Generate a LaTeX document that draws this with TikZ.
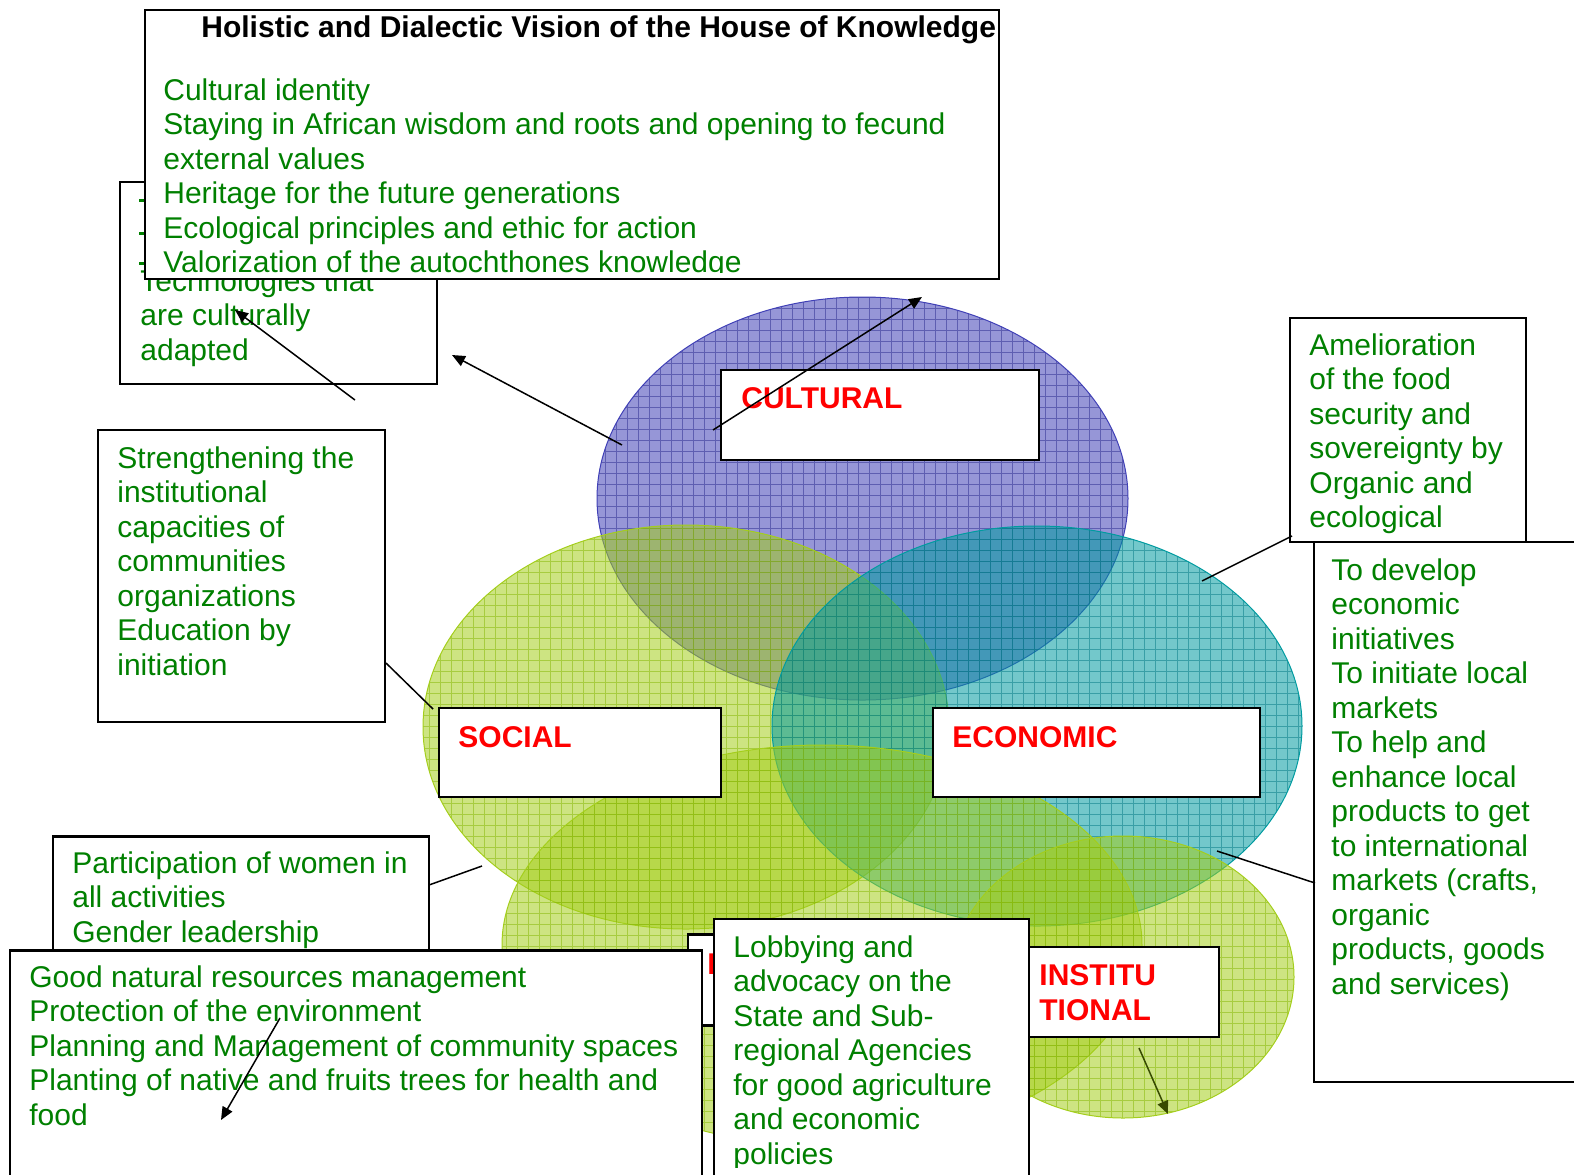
\documentclass[tikz,border=0pt]{standalone}
\usepackage{fontspec}
\setmainfont{Liberation Sans}
\usetikzlibrary{arrows.meta}

\definecolor{leafgreen}{RGB}{0,128,0}
\definecolor{tagred}{RGB}{255,0,0}
\definecolor{cultfill}{RGB}{64,64,182}
\definecolor{cultgrid}{RGB}{40,40,140}
\definecolor{socfill}{RGB}{164,206,28}
\definecolor{socgrid}{RGB}{130,180,0}
\definecolor{ecofill}{RGB}{0,155,160}
\definecolor{ecogrid}{RGB}{0,120,130}
\definecolor{olivearrow}{RGB}{55,75,0}

% centre x, centre y, x radius, y radius, fill colour, mesh colour
\newcommand{\meshellipse}[6]{%
  \fill[#5, fill opacity=.55] (#1,#2) ellipse (#3 and #4);
  \begin{scope}
    \clip (#1,#2) ellipse (#3 and #4);
    \draw[#6, line width=.5pt, draw opacity=.5, step=5.5pt] (#1-#3,#2-#4) grid (#1+#3,#2+#4);
  \end{scope}
  \draw[#5, line width=.5pt] (#1,#2) ellipse (#3 and #4);
}

\begin{document}
\begin{tikzpicture}[x=0.5pt, y=-0.5pt,
    panel/.style={draw, line width=1.2pt, fill=white, inner sep=0pt},
    note/.style={text=leafgreen, anchor=north west, align=left, inner sep=0pt,
      font=\fontsize{15}{17.25}\selectfont},
    tag/.style={text=tagred, anchor=north west, align=left, inner sep=0pt,
      font=\bfseries\fontsize{15}{17.5}\selectfont},
    link/.style={line width=.75pt},
    pointer/.style={link, -{Triangle[length=6.5pt, width=5.5pt]}}]
\useasboundingbox (0,0) rectangle (1574,1174);
\clip (0,0) rectangle (1574,1174);

% the five dimensions
\meshellipse{862.5}{498.5}{265.5}{201.5}{cultfill}{cultgrid}
\meshellipse{686}{727}{263}{202}{socfill}{socgrid}
\meshellipse{1037}{726}{265}{200}{ecofill}{ecogrid}
\meshellipse{822}{945}{320}{200}{socfill}{socgrid}
\meshellipse{1123}{977}{171}{141}{socfill}{socgrid}

\node[panel, minimum width=159pt, minimum height=45pt] (culturebox) at (880,415) {};
\node[tag] (culturetag) at (741,387) {CULTURAL};
\node[panel, minimum width=141pt, minimum height=44.5pt] (socialbox) at (580,752.5) {};
\node[tag] (socialtag) at (458,726) {SOCIAL};
\node[panel, minimum width=163.5pt, minimum height=44.5pt] (economybox) at (1096.5,752.5) {};
\node[tag] (economytag) at (952,726) {ECONOMIC};
\node[panel, minimum width=157pt, minimum height=45.5pt] (envbox) at (845,980) {};
\node[tag] (envtag) at (707,953) {E};
\node[panel, minimum width=95pt, minimum height=45pt] (institbox) at (1124,992) {};
\node[tag] (institag) at (1039,964) {INSTITU\\TIONAL};

% notes
\node[panel, minimum width=158.5pt, minimum height=101pt] (techbox) at (278.5,283) {};
\node[note] (techtxt) at (140,269) {Technologies that\\are culturally\\adapted};
\fill[leafgreen] (139,199) rectangle (145,202);
\fill[leafgreen] (139,232) rectangle (145,235);
\fill[leafgreen] (139,262) rectangle (145,265);

\node[panel, minimum width=427pt, minimum height=134.5pt] (visionbox) at (572,144.5) {};
\node[anchor=base west, inner sep=0pt, font=\bfseries\fontsize{15}{17.5}\selectfont]
  (title) at (201,37) {Holistic and Dialectic Vision of the House of Knowledge};
\begin{scope}
  \clip (145,10) rectangle (999,272);
  \node[note] (visiontxt) at (163,78) {Cultural identity\\Staying in African wisdom and roots and opening to fecund\\external values\\Heritage for the future generations\\Ecological principles and ethic for action\\Valorization of the autochthones knowledge};
\end{scope}

\node[panel, minimum width=143.5pt, minimum height=146pt] (capbox) at (241.5,576) {};
\node[note] (captxt) at (117,446) {Strengthening the\\institutional\\capacities of\\communities\\organizations\\Education by\\initiation};

\node[panel, minimum width=118pt, minimum height=112pt] (foodbox) at (1408,430) {};
\node[note] (foodtxt) at (1309,333) {Amelioration\\of the food\\security and\\sovereignty by\\Organic and\\ecological};

\node[panel, minimum width=153pt, minimum height=270pt] (marketbox) at (1467,812) {};
\node[note] (markettxt) at (1331,558) {To develop\\economic\\initiatives\\To initiate local\\markets\\To help and\\enhance local\\products to get\\to international\\markets (crafts,\\organic\\products, goods\\and services)};

\node[panel, minimum width=188pt, minimum height=72.5pt] (womenbox) at (241,909) {};
\node[note] (womentxt) at (72,851) {Participation of women in\\all activities\\Gender leadership};

\node[panel, minimum width=346pt, minimum height=125.5pt] (naturebox) at (356,1076) {};
\node[note] (naturetxt) at (29,965) {Good natural resources management\\Protection of the environment\\Planning and Management of community spaces\\Planting of native and fruits trees for health and\\food};

\node[panel, minimum width=157.5pt, minimum height=140.5pt] (lobbybox) at (871.5,1059.5) {};
\begin{scope}
  \clip (714,919) rectangle (1029,1167);
  \node[note] (lobbytxt) at (733,935) {Lobbying and\\advocacy on the\\State and Sub-\\regional Agencies\\for good agriculture\\and economic\\policies};
\end{scope}

% connectors
\coordinate (cultfoot) at (713,430);
\coordinate (culttop) at (922,297);
\coordinate (cultrim) at (622,445);
\coordinate (techcorner) at (452,355);
\coordinate (techfoot) at (355,400);
\coordinate (techword) at (235,310);
\coordinate (capjoin) at (386,663);
\coordinate (socialjoin) at (433,709);
\coordinate (womenjoin) at (429,885);
\coordinate (socialrim) at (482,866);
\coordinate (foodjoin) at (1292,536);
\coordinate (ecorim) at (1202,581);
\coordinate (marketjoin) at (1315,883);
\coordinate (ecolow) at (1217,851);
\coordinate (institfoot) at (1139,1048);
\coordinate (institrim) at (1168,1114);
\coordinate (naturetop) at (280,1018);
\coordinate (naturefoot) at (221,1120);

\draw[pointer] (cultfoot) -- (culttop);
\draw[pointer] (cultrim) -- (techcorner);
\draw[pointer] (techfoot) -- (techword);
\draw[link] (capjoin) -- (socialjoin);
\draw[link] (womenjoin) -- (socialrim);
\draw[link] (foodjoin) -- (ecorim);
\draw[link] (marketjoin) -- (ecolow);
\draw[pointer, olivearrow] (institfoot) -- (institrim);
\draw[pointer] (naturetop) -- (naturefoot);
\end{tikzpicture}
\end{document}
